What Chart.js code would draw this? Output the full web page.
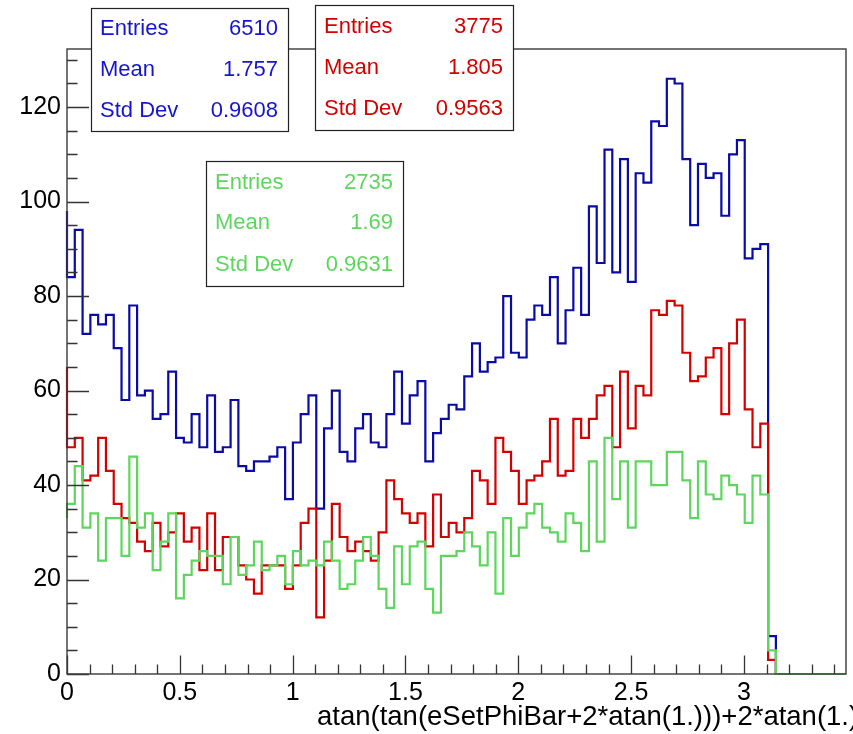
<!DOCTYPE html>
<html>
<head>
<meta charset="utf-8">
<script src="https://cdn.jsdelivr.net/npm/chart.js@4.4.0/dist/chart.umd.min.js"></script>
<style>
html,body{margin:0;padding:0;background:#fff;}
canvas{display:block;}
</style>
</head>
<body>
<canvas id="c" width="853" height="734"></canvas>
<script>
// ---------- data ----------
const N_BINS = 100;
const X_MAX = 100 * Math.PI / 91;   // histogram upper edge
const Y_MAX = 132.3;

const blueCounts = [98,84,94,72,76,74,76,69,58,78, 59,60,54,55,64,50,49,55,48,59,
  47,48,58,44,43,45,45,46,48,37, 49,55,59,35,52,60,47,45,52,55,
  49,48,55,64,53,59,62,45,51,54, 57,56,63,70,64,66,67,80,68,67,
  75,78,76,84,70,77,86,76,99,87, 111,85,109,83,106,104,117,116,126,125,
  109,95,108,105,106,97,110,113,88,90, 91,8,0,0,0,0,0,0,0,0];

const redCounts = [65,48,50,41,42,50,43,36,33,32, 28,26,32,27,30,34,28,31,22,34,
  22,29,29,23,20,17,23,23,23,18, 23,32,35,12,24,36,29,26,28,26,
  24,30,41,37,34,32,34,27,38,29, 32,30,33,43,41,36,50,47,43,36,
  41,42,45,54,42,43,54,50,54,59, 61,48,64,52,61,59,77,76,79,78,
  68,62,63,67,69,55,70,75,56,48, 53,3,0,0,0,0,0,0,0,0];

const greenCounts = [33,36,44,31,34,24,33,33,25,46, 31,34,22,28,34,16,21,24,26,25,
  25,19,29,21,23,28,22,23,25,19, 26,23,24,23,28,24,18,19,24,29,
  25,18,14,27,19,27,28,18,13,25, 25,26,30,27,23,30,17,33,25,31,
  34,36,31,30,28,34,32,26,45,28, 50,37,45,31,45,45,40,40,47,47,
  41,33,45,38,37,42,40,38,32,42, 38,5,0,0,0,0,0,0,0,0];

const xTickValues = [0, 0.5, 1, 1.5, 2, 2.5, 3];
const yTickValues = [0, 20, 40, 60, 80, 100, 120];
const xTitle = "atan(tan(eSetPhiBar+2*atan(1.)))+2*atan(1.)";

const statsBlue  = {labels:["Entries","Mean","Std Dev"], values:["6510","1.757","0.9608"]};
const statsRed   = {labels:["Entries","Mean","Std Dev"], values:["3775","1.805","0.9563"]};
const statsGreen = {labels:["Entries","Mean","Std Dev"], values:["2735","1.69","0.9631"]};

// ---------- build step points ----------
function histPoints(counts){
  const w = X_MAX / N_BINS;
  const pts = counts.map((v,k)=>({x:k*w, y:v}));
  pts.push({x:X_MAX, y:counts[counts.length-1]});
  return pts;
}

const COL_BLUE = '#0a0aa6', COL_RED = '#d40000', COL_GREEN = '#5ed65e';
const TXT_BLUE = '#1414d2', TXT_RED = '#d40000', TXT_GREEN = '#5ed65e';
const FONT = '"Liberation Sans", Arial, Helvetica, sans-serif';

const rootDecor = {
  id:'rootDecor',
  afterDatasetsDraw(chart){
    const ctx = chart.ctx, a = chart.chartArea;
    const xs = chart.scales.x, ys = chart.scales.y;
    ctx.save();
    ctx.strokeStyle = '#333';
    ctx.lineWidth = 1.3;
    // ticks x
    ctx.beginPath();
    for (let i=0;i*0.1<=X_MAX+1e-9;i++){
      const v = i*0.1;
      const px = Math.round(xs.getPixelForValue(v))+0.5;
      const len = (i%5===0)?18.5:9.5;
      ctx.moveTo(px, a.bottom); ctx.lineTo(px, a.bottom-len);
    }
    // ticks y
    for (let v=0; v<=Y_MAX; v+=5){
      const py = Math.round(ys.getPixelForValue(v))+0.5;
      const len = (v%20===0)?22:10.5;
      ctx.moveTo(a.left, py); ctx.lineTo(a.left+len, py);
    }
    ctx.stroke();
    // frame
    ctx.lineWidth = 1.4;
    ctx.strokeStyle = '#3a3a3a';
    ctx.strokeRect(a.left, a.top, a.right-a.left, a.bottom-a.top);
    // x title (right end clipped by the canvas edge, as in the original)
    ctx.fillStyle = '#000';
    ctx.font = '27.5px ' + FONT;
    ctx.textAlign = 'right';
    ctx.textBaseline = 'middle';
    const closeW = ctx.measureText(')').width;
    ctx.fillText(xTitle, 849 + closeW, 717);
    // stats boxes
    drawStats(ctx, statsBlue, TXT_BLUE, 91, 8, 288, 131, [29,70,111]);
    drawStats(ctx, statsRed, TXT_RED, 315, 5, 513, 130, [27,68,109]);
    drawStats(ctx, statsGreen, TXT_GREEN, 206, 161, 403, 286, [183,223,265]);
    ctx.restore();
  }
};

function drawStats(ctx, st, col, l, t, r, b, rows){
  ctx.save();
  ctx.fillStyle = '#fff';
  ctx.fillRect(l, t, r-l, b-t);
  ctx.strokeStyle = '#222';
  ctx.lineWidth = 1.2;
  ctx.strokeRect(l+0.5, t+0.5, r-l, b-t);
  ctx.fillStyle = col;
  ctx.font = '22px ' + FONT;
  ctx.textBaseline = 'middle';
  for (let i=0;i<3;i++){
    ctx.textAlign = 'left';
    ctx.fillText(st.labels[i], l+9, rows[i]);
    ctx.textAlign = 'right';
    ctx.fillText(st.values[i], r-10, rows[i]);
  }
  ctx.restore();
}

new Chart(document.getElementById('c'), {
  type:'line',
  data:{
    datasets:[
      {label:'green', data:histPoints(greenCounts), borderColor:COL_GREEN, order:1},
      {label:'red',   data:histPoints(redCounts),   borderColor:COL_RED,   order:2},
      {label:'blue',  data:histPoints(blueCounts),  borderColor:COL_BLUE,  order:3}
    ].map(d=>Object.assign(d,{stepped:'after', borderWidth:2.2, pointRadius:0, fill:false, clip:4, tension:0}))
  },
  options:{
    responsive:false,
    animation:false,
    events:[],
    layout:{padding:{left:0, right:7, top:49, bottom:0}},
    plugins:{legend:{display:false}, tooltip:{enabled:false}},
    scales:{
      x:{
        type:'linear', min:0, max:X_MAX,
        afterBuildTicks(s){ s.ticks = xTickValues.map(v=>({value:v})); },
        afterFit(s){ s.height = 60; },
        grid:{display:false, drawTicks:false},
        border:{display:false},
        ticks:{padding:4, maxRotation:0, autoSkip:false, color:'#000',
          font:{family:FONT, size:25},
          callback:(v)=>String(v)}
      },
      y:{
        type:'linear', min:0, max:Y_MAX,
        afterBuildTicks(s){ s.ticks = yTickValues.map(v=>({value:v})); },
        afterFit(s){ s.width = 67; },
        grid:{display:false, drawTicks:false},
        border:{display:false},
        ticks:{padding:6, color:'#000', autoSkip:false,
          font:{family:FONT, size:25},
          callback:(v)=>String(v)}
      }
    }
  },
  plugins:[rootDecor]
});
</script>
</body>
</html>
